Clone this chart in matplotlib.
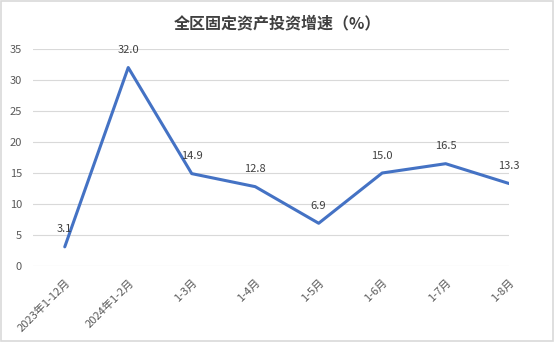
import matplotlib.pyplot as plt
from matplotlib.patches import Rectangle

plt.rcParams['font.family'] = ['Noto Sans CJK SC', 'DejaVu Sans']

# 数据
categorias = ['2023年1-12月', '2024年1-2月', '1-3月', '1-4月', '1-5月', '1-6月', '1-7月', '1-8月']
valores = [3.1, 32.0, 14.9, 12.8, 6.9, 15.0, 16.5, 13.3]
y_ticks = [0, 5, 10, 15, 20, 25, 30, 35]

fig = plt.figure(figsize=(5.54, 3.42), dpi=100)
ax = fig.add_axes([0.0596, 0.222, 0.8594, 0.635])

x = list(range(len(categorias)))
ax.plot(x, valores, color='#4472C4', linewidth=2.2, solid_capstyle='round')

# etiquetas de datos
for xi, v in zip(x, valores):
    ax.annotate(f'{v:.1f}', (xi, v), xytext=(0, 9), textcoords='offset points',
                ha='center', va='bottom', fontsize=8, color='#404040')

ax.set_xlim(-0.5, 7.0)
ax.set_ylim(0, 35)
ax.set_yticks(y_ticks)
ax.set_xticks(x)
ax.set_xticklabels(categorias, rotation=45, ha='right', rotation_mode='anchor')
ax.tick_params(axis='both', length=0, labelsize=8, labelcolor='#595959')
ax.tick_params(axis='y', pad=8)
ax.tick_params(axis='x', pad=8)
ax.grid(axis='y', color='#D9D9D9', linewidth=0.8)
ax.set_axisbelow(True)
for s in ax.spines.values():
    s.set_visible(False)

fig.text(0.5, 0.932, '全区固定资产投资增速（%）', ha='center', va='center',
         fontsize=11.5, fontweight='bold', color='#404040')

# marco exterior
fig.patches.append(Rectangle((0.002, 0.003), 0.996, 0.994, transform=fig.transFigure,
                             fill=False, edgecolor='#D9D9D9', linewidth=1.2))

fig.savefig('out.png', dpi=100)
